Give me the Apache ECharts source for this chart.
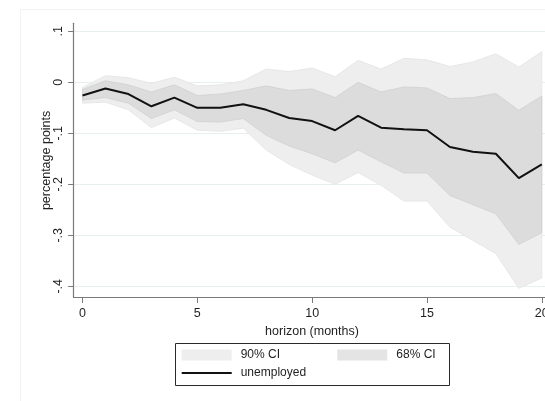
<!DOCTYPE html>
<html>
<head>
<meta charset="utf-8">
<script src="https://cdn.jsdelivr.net/npm/echarts@6/dist/echarts.min.js"></script>
<style>
  html, body { margin: 0; padding: 0; background: #ffffff; }
  #chart { width: 545px; height: 401px; }
</style>
</head>
<body>
<div id="chart"></div>
<script>
// Impulse response of unemployment, with 68% and 90% confidence bands
const months = [0, 1, 2, 3, 4, 5, 6, 7, 8, 9, 10, 11, 12, 13, 14, 15, 16, 17, 18, 19, 20];
const unemployed = [-0.026, -0.012, -0.023, -0.047, -0.030, -0.050, -0.050, -0.043, -0.054, -0.070, -0.076,
                    -0.094, -0.066, -0.089, -0.092, -0.094, -0.127, -0.136, -0.140, -0.188, -0.161];
const upper68 = [-0.014, 0.003, -0.005, -0.019, -0.005, -0.026, -0.023, -0.016, -0.007, -0.016, -0.013,
                 -0.030, 0.000, -0.019, -0.009, -0.011, -0.032, -0.030, -0.022, -0.055, -0.027];
const lower68 = [-0.035, -0.030, -0.041, -0.071, -0.054, -0.077, -0.078, -0.071, -0.104, -0.125, -0.140,
                 -0.158, -0.133, -0.156, -0.178, -0.178, -0.222, -0.240, -0.258, -0.318, -0.295];
const upper90 = [-0.010, 0.013, 0.009, -0.002, 0.010, -0.007, -0.005, 0.003, 0.026, 0.021, 0.028,
                 0.011, 0.043, 0.026, 0.047, 0.044, 0.031, 0.040, 0.056, 0.030, 0.060];
const lower90 = [-0.041, -0.039, -0.054, -0.089, -0.070, -0.094, -0.096, -0.090, -0.133, -0.161, -0.182,
                 -0.200, -0.177, -0.202, -0.233, -0.233, -0.284, -0.310, -0.336, -0.404, -0.384];

const xTicks = [0, 5, 10, 15, 20];
const yTicks = [-0.4, -0.3, -0.2, -0.1, 0, 0.1];
const yTickLabels = ['-.4', '-.3', '-.2', '-.1', '0', '.1'];

const FONT = 'Liberation Sans, Arial, sans-serif';
const TEXT = '#1f1f1f';
const AXIS = '#7a7a7a';
const BAND90 = '#eeeeee';
const BAND68 = 'rgba(201,201,201,0.5)';

const pairs = (vals) => months.map((m, i) => [m, vals[i]]);

const yLabel = (v) => {
  const k = yTicks.findIndex(t => Math.abs(t - v) < 1e-9);
  return k >= 0 ? yTickLabels[k] : '';
};

// Shaded band between two bound series, placed through the axis scales
function bandSeries(name, upper, lower, fill, edge, z) {
  return {
    name: name,
    type: 'custom',
    z: z,
    silent: true,
    clip: true,
    color: fill,
    data: [[months[0], upper[0]]],
    encode: { x: 0, y: 1 },
    renderItem: function (params, api) {
      const top = months.map((m, i) => api.coord([m, upper[i]]));
      const bottom = months.map((m, i) => api.coord([m, lower[i]])).reverse();
      return {
        type: 'polygon',
        shape: { points: top.concat(bottom) },
        style: { fill: fill, stroke: edge, lineWidth: 0.8 }
      };
    }
  };
}

const chart = echarts.init(document.getElementById('chart'), null, { renderer: 'canvas' });

chart.setOption({
  animation: false,
  backgroundColor: '#ffffff',
  textStyle: { fontFamily: FONT },
  grid: { left: 73.7, top: 23.3, width: 476.6, height: 274.2, containLabel: false, outerBoundsMode: 'none' },
  xAxis: {
    type: 'value',
    min: -0.383,
    max: 20.37,
    name: 'horizon (months)',
    nameLocation: 'middle',
    nameGap: 28,
    nameTextStyle: { color: TEXT, fontSize: 12.5, fontFamily: FONT },
    axisLine: { show: true, onZero: false, lineStyle: { color: AXIS, width: 1.2 } },
    axisTick: { show: true, inside: false, length: 5.5, customValues: xTicks, lineStyle: { color: AXIS, width: 1 } },
    axisLabel: { customValues: xTicks, margin: 9.5, color: TEXT, fontSize: 12.5, fontFamily: FONT },
    splitLine: { show: false }
  },
  yAxis: {
    type: 'value',
    min: -0.422,
    max: 0.1157,
    name: 'percentage points',
    nameLocation: 'middle',
    nameRotate: 90,
    nameGap: 21,
    nameMoveOverlap: false,
    nameTextStyle: { color: TEXT, fontSize: 12.5, fontFamily: FONT },
    axisLine: { show: true, onZero: false, lineStyle: { color: AXIS, width: 1.2 } },
    axisTick: { show: true, inside: false, length: 5.5, customValues: yTicks, lineStyle: { color: AXIS, width: 1 } },
    axisLabel: { customValues: yTicks, rotate: 90, margin: 9, color: TEXT, fontSize: 12.5, fontFamily: FONT, formatter: yLabel },
    splitLine: { show: true, lineStyle: { color: '#e8eff1', width: 1 } }
  },
  legend: [
    {
      left: 181.7, top: 349, padding: 0, itemWidth: 50, itemHeight: 11,
      textStyle: { color: TEXT, fontSize: 12, fontFamily: FONT, padding: [0, 0, 0, 4] },
      data: [{ name: '90% CI', icon: 'rect', itemStyle: { color: BAND90, borderWidth: 0 } }]
    },
    {
      left: 337.3, top: 349, padding: 0, itemWidth: 50, itemHeight: 11,
      textStyle: { color: TEXT, fontSize: 12, fontFamily: FONT, padding: [0, 0, 0, 4] },
      data: [{ name: '68% CI', icon: 'rect', itemStyle: { color: BAND68, borderWidth: 0 } }]
    },
    {
      left: 181.7, top: 367, padding: 0, itemWidth: 50, itemHeight: 2,
      textStyle: { color: TEXT, fontSize: 12, fontFamily: FONT, padding: [0, 0, 0, 4] },
      data: [{ name: 'unemployed', icon: 'rect', itemStyle: { color: '#111111', borderWidth: 0 } }]
    }
  ],
  graphic: [
    // faint outline of the graph region
    { type: 'rect', silent: true, shape: { x: 20.5, y: 9.5, width: 600, height: 500 },
      style: { fill: 'none', stroke: '#f3f3f3', lineWidth: 1 } },
    // legend frame
    { type: 'rect', silent: true, shape: { x: 175.5, y: 343.5, width: 274, height: 42 },
      style: { fill: 'none', stroke: '#2a2a2a', lineWidth: 1 } }
  ],
  series: [
    bandSeries('90% CI', upper90, lower90, BAND90, '#e3e3e3', 1),
    bandSeries('68% CI', upper68, lower68, BAND68, '#d0d0d0', 2),
    {
      name: 'unemployed', type: 'line', data: pairs(unemployed),
      symbol: 'none', z: 3, color: '#111111',
      lineStyle: { color: '#111111', width: 2 }
    }
  ]
});
</script>
</body>
</html>
